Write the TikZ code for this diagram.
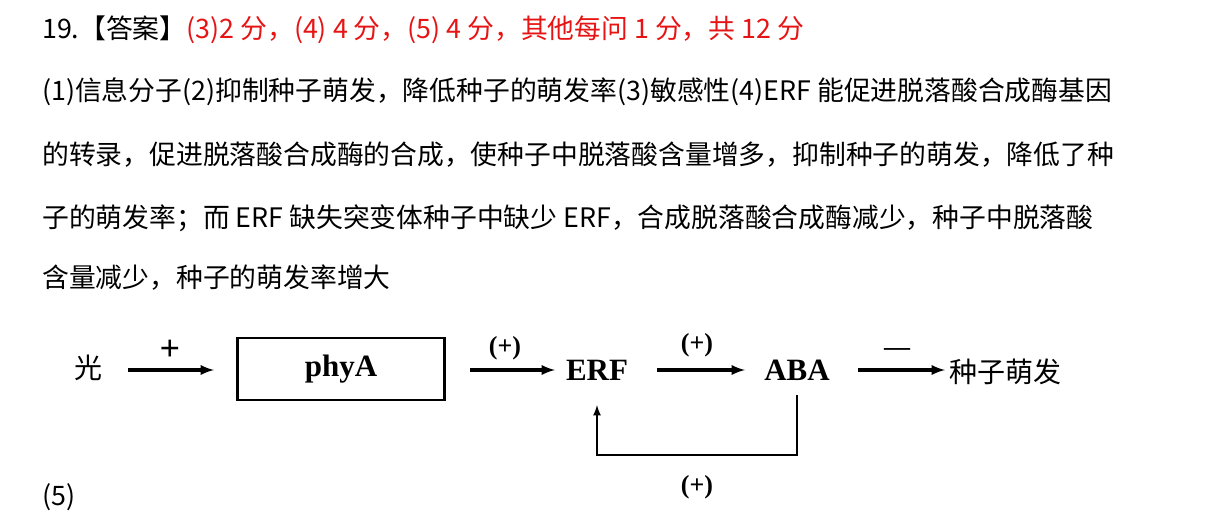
\documentclass[tikz,border=0pt]{standalone}
\usepackage{fontspec}
\setmainfont{Liberation Serif}
\newfontfamily\cjk{Noto Sans CJK SC}
\definecolor{ansred}{RGB}{230,20,20}
\begin{document}
\begin{tikzpicture}[x=1pt,y=-1pt,
  txt/.style={anchor=west,inner sep=0,font=\cjk\fontsize{26.8}{28}\selectfont},
  lab/.style={inner sep=0,font=\bfseries\fontsize{31}{33}\selectfont},
  arr/.style={-latex,line width=3.5pt},
  sgn/.style={inner sep=0,font=\bfseries\fontsize{26}{28}\selectfont}]
\useasboundingbox (0,0) rectangle (1216,525);
\node[txt] (l1) at (42,30) {19.【答案】\textcolor{ansred}{(3)2 分，(4) 4 分，(5) 4 分，其他每问 1 分，共 12 分}};
\node[txt] (l2) at (42,92) {(1)信息分子(2)抑制种子萌发，降低种子的萌发率(3)敏感性(4)ERF 能促进脱落酸合成酶基因};
\node[txt] (l3) at (42,155) {的转录，促进脱落酸合成酶的合成，使种子中脱落酸含量增多，抑制种子的萌发，降低了种};
\node[txt] (l4) at (42,218) {子的萌发率；而 ERF 缺失突变体种子中缺少 ERF，合成脱落酸合成酶减少，种子中脱落酸};
\node[txt] (l5) at (42,278) {含量减少，种子的萌发率增大};
\node[txt] (l6) at (42,497) {(5)};
\node[inner sep=0,font=\cjk\fontsize{28}{30}\selectfont] (light) at (88,368) {光};
\node[lab,draw,line width=2.2pt,minimum width=207pt,minimum height=62pt] (phy) at (341,369) {phyA};
\node[lab] (erf) at (597,370) {ERF};
\node[lab] (aba) at (797,370) {ABA};
\node[inner sep=0,font=\cjk\fontsize{28}{30}\selectfont] (seed) at (1005,372) {种子萌发};
\draw[arr] (128,370) -- (214,370);
\draw[arr] (470,370) -- (555,370);
\draw[arr] (657,370) -- (745,370);
\draw[arr] (858,370) -- (945,370);
\node[sgn,font=\bfseries\fontsize{36}{38}\selectfont] (s1) at (170,350) {+};
\node[sgn] (s2) at (505,348) {(+)};
\node[sgn] (s3) at (697,345) {(+)};
\node[sgn] (s4) at (897,352) {—};
\node[sgn] (s5) at (697,487) {(+)};
\draw[arr,line width=2.5pt] (797,395) -- (797,455) -- (597,455) -- (597,405);
\end{tikzpicture}
\end{document}
